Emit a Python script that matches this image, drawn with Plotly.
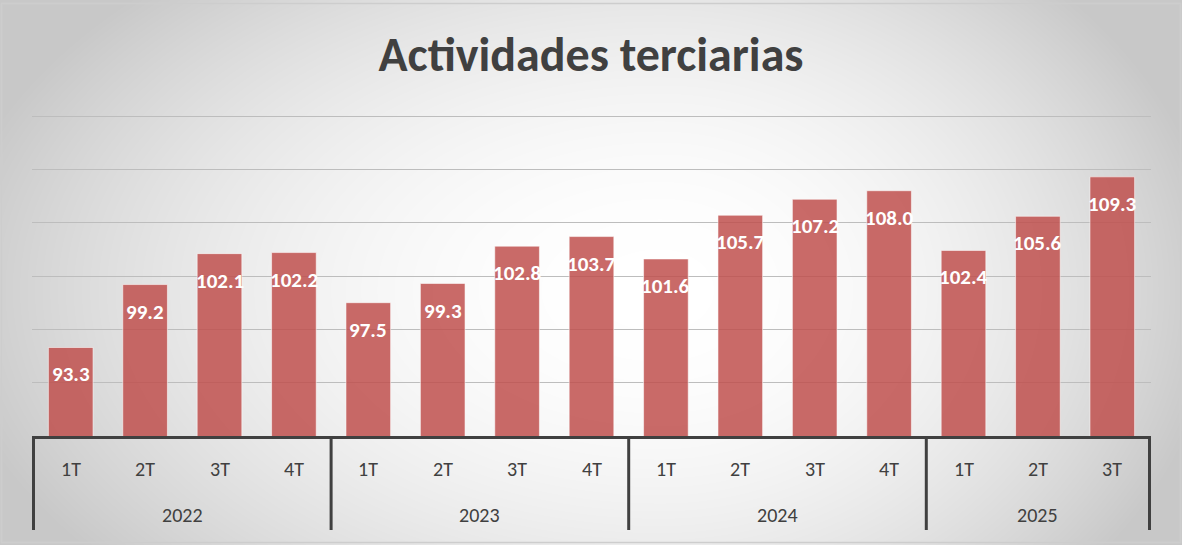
import base64, struct, zlib
import numpy as np
import plotly.graph_objects as go

# ---------------- data ----------------
years = ["2022"] * 4 + ["2023"] * 4 + ["2024"] * 4 + ["2025"] * 3
quarters = ["1T", "2T", "3T", "4T", "1T", "2T", "3T", "4T",
            "1T", "2T", "3T", "4T", "1T", "2T", "3T"]
values = [93.3, 99.2, 102.1, 102.2, 97.5, 99.3, 102.8, 103.7,
          101.6, 105.7, 107.2, 108.0, 102.4, 105.6, 109.3]
title_text = "Actividades terciarias"

W, H = 1182, 545
ML, MR, MT, MB = 32, 31, 115, 109
PW, PH = W - ML - MR, H - MT - MB

# ---------------- radial gradient background (PNG data URI) ----------------
def gradient_png(w, h):
    yy, xx = np.mgrid[0:h, 0:w].astype(float)
    cx, cy = 660.0, 290.0
    rx = np.where(xx < cx, 720.0, 560.0)
    ry = 430.0
    t2 = ((xx - cx) / rx) ** 2 + ((yy - cy) / ry) ** 2
    t2 = np.clip(t2, 0, 1)
    g = 255 - 55 * t2
    img = np.round(g).astype(np.uint8)
    raw = b"".join(b"\x00" + img[r].tobytes() for r in range(h))
    def chunk(tag, data):
        c = struct.pack(">I", len(data)) + tag + data
        return c + struct.pack(">I", zlib.crc32(tag + data) & 0xFFFFFFFF)
    png = b"\x89PNG\r\n\x1a\n"
    png += chunk(b"IHDR", struct.pack(">IIBBBBB", w, h, 8, 0, 0, 0, 0))
    png += chunk(b"IDAT", zlib.compress(raw, 9))
    png += chunk(b"IEND", b"")
    return "data:image/png;base64," + base64.b64encode(png).decode()

bg = gradient_png(W, H)

font_family = "Calibri, Carlito, Lato, sans-serif"
axis_color = "#404040"

def px_x(p):
    return (p - ML) / PW

def px_y(p):
    return (H - MB - p) / PH

fig = go.Figure()
fig.add_trace(go.Bar(
    x=[years, quarters],
    y=values,
    marker=dict(color="rgba(192,80,77,0.85)",
                line=dict(color="rgba(255,255,255,0.55)", width=1)),
    hoverinfo="x+y",
))

# data labels
for i, v in enumerate(values):
    fig.add_annotation(
        x=i, y=v, xref="x", yref="y",
        text="<b>%.1f</b>" % v,
        showarrow=False, yanchor="middle", yshift=-27,
        font=dict(family=font_family, size=21, color="white"),
    )

# category labels (inner level: quarters, outer level: years)
for i, q in enumerate(quarters):
    fig.add_annotation(
        x=i, y=px_y(469), xref="x", yref="paper", text=q,
        showarrow=False, yanchor="middle",
        font=dict(family=font_family, size=20, color=axis_color),
    )

groups = []
for i, yv in enumerate(years):
    if not groups or groups[-1][0] != yv:
        groups.append([yv, i, i])
    else:
        groups[-1][2] = i

for yv, a, b in groups:
    fig.add_annotation(
        x=(a + b) / 2, y=px_y(515), xref="x", yref="paper", text=yv,
        showarrow=False, yanchor="middle",
        font=dict(family=font_family, size=20, color=axis_color),
    )
    for edge in ([a - 0.5] if a == 0 else []) + [b + 0.5]:
        fig.add_shape(type="line", xref="x", yref="paper",
                      x0=edge, x1=edge, y0=px_y(530), y1=px_y(436),
                      line=dict(color=axis_color, width=3), layer="above")

fig.update_layout(
    width=W, height=H,
    margin=dict(l=ML, r=MR, t=MT, b=MB),
    paper_bgcolor="white",
    plot_bgcolor="rgba(0,0,0,0)",
    bargap=0.4,
    showlegend=False,
    title=dict(text="<b>" + title_text + "</b>", x=0.5, xanchor="center",
               y=1 - 54 / H, yanchor="middle",
               font=dict(family=font_family, size=48, color="#404040")),
    images=[dict(source=bg, xref="paper", yref="paper", x=px_x(0), y=px_y(0),
                 sizex=W / PW, sizey=H / PH, xanchor="left", yanchor="top",
                 sizing="stretch", layer="below")],
)
fig.add_shape(type="rect", xref="paper", yref="paper",
              x0=px_x(1.5), x1=px_x(1180.5), y0=px_y(542.5), y1=px_y(3.5),
              line=dict(color="#cdcdcd", width=1.5), layer="above")

fig.update_xaxes(
    type="multicategory",
    showline=True, linecolor=axis_color, linewidth=3,
    showticklabels=False, showdividers=False, ticks="",
    showgrid=False, zeroline=False,
)
fig.update_yaxes(
    range=[85, 115.1], dtick=5, showticklabels=False,
    showgrid=True, gridcolor="#bdbdbd", gridwidth=1,
    zeroline=False, showline=False, ticks="",
)

fig.write_html("out.html",
               config={"displayModeBar": False},
               post_script="document.body.style.margin='0';document.body.style.overflow='hidden';")
